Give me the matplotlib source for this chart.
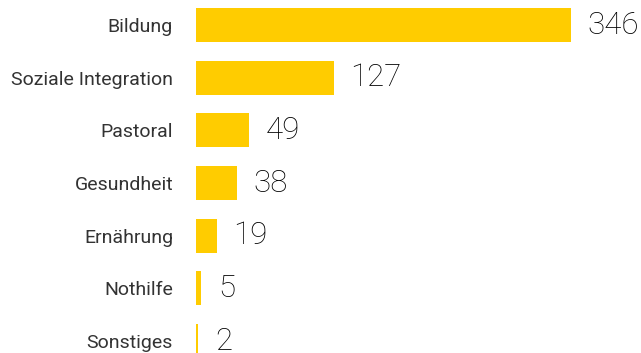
import matplotlib.pyplot as plt

# Data
categories = ['Bildung', 'Soziale Integration', 'Pastoral', 'Gesundheit',
              'Ernährung', 'Nothilfe', 'Sonstiges']
values = [346, 127, 49, 38, 19, 5, 2]

bar_color = '#FFCC00'
text_color = '#333333'

fig = plt.figure(figsize=(6.41, 3.53), dpi=100)
ax = fig.add_axes([196 / 641, 0, 445 / 641, 1])

pos = list(range(len(categories)))
ax.barh(pos, values, height=0.645, color=bar_color)

# scale: 346 ends at x=571px
ax.set_xlim(0, 346 * 445 / 375)
ax.set_ylim((353 - 25) / 52.67, -25 / 52.67)

ax.set_yticks(pos)
ax.set_yticklabels(categories, fontsize=14, color=text_color, family=['Roboto', 'DejaVu Sans'])
ax.tick_params(axis='y', length=0, pad=16.5)
ax.set_xticks([])
for s in ax.spines.values():
    s.set_visible(False)

# value labels
for p, v in zip(pos, values):
    ax.annotate(str(v), xy=(v, p), xytext=(12, 0), textcoords='offset points',
                va='center', ha='left', fontsize=22.5, color='#000000',
                fontweight='light', family=['Roboto', 'DejaVu Sans'],
                annotation_clip=False)

fig.savefig('out.png', dpi=100)
